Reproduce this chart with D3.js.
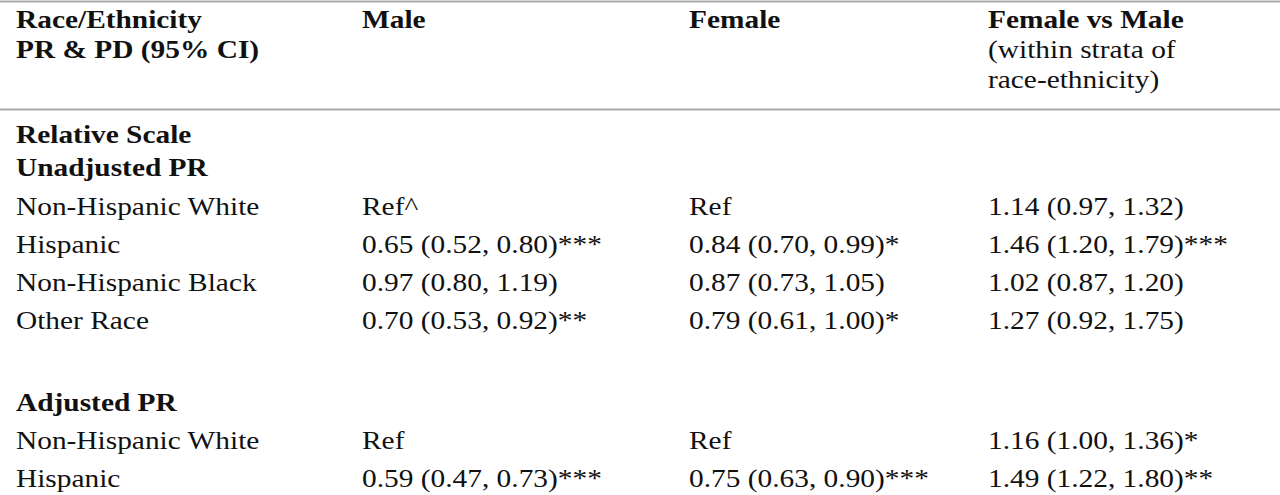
<!DOCTYPE html>
<html><head><meta charset="utf-8">
<script src="https://cdn.jsdelivr.net/npm/d3@7"></script>
<style>body{margin:0;background:#fff}</style>
</head><body><div id="tbl"></div>
<script>
var headers = [
  ["Race/Ethnicity", "PR & PD (95% CI)"],
  ["Male"],
  ["Female"],
  ["Female vs Male", "(within strata of", "race-ethnicity)"]
];
var sections = ["Relative Scale", "Unadjusted PR", "", "Adjusted PR"];
var groups = ["Non-Hispanic White", "Hispanic", "Non-Hispanic Black", "Other Race"];
var maleVals = ["Ref^", "0.65 (0.52, 0.80)***", "0.97 (0.80, 1.19)", "0.70 (0.53, 0.92)**", "Ref", "0.59 (0.47, 0.73)***"];
var femaleVals = ["Ref", "0.84 (0.70, 0.99)*", "0.87 (0.73, 1.05)", "0.79 (0.61, 1.00)*", "Ref", "0.75 (0.63, 0.90)***"];
var fvmVals = ["1.14 (0.97, 1.32)", "1.46 (1.20, 1.79)***", "1.02 (0.87, 1.20)", "1.27 (0.92, 1.75)", "1.16 (1.00, 1.36)*", "1.49 (1.22, 1.80)**"];

var width = 1280, height = 495, font_size = 26, sx = 1.13;
var colX = [16, 362, 689, 988];

var svg = d3.select("#tbl").append("svg").attr("width", width).attr("height", height)
  .style("font-family", "'Liberation Serif','Times New Roman',serif")
  .style("font-size", font_size + "px").attr("fill", "#111");

function put(x, y, t, bold) {
  svg.append("text").attr("transform", "translate(" + x + "," + y + ") scale(" + sx + ",1)")
    .attr("font-weight", bold ? "bold" : "normal").text(t);
}

// rules
svg.append("line").attr("x1", 0).attr("x2", width).attr("y1", 1.5).attr("y2", 1.5).attr("stroke", "#aaa").attr("stroke-width", 2);
svg.append("line").attr("x1", 0).attr("x2", width).attr("y1", 109.5).attr("y2", 109.5).attr("stroke", "#aaa").attr("stroke-width", 2);

// header
headers.forEach(function (lines, c) {
  lines.forEach(function (t, k) {
    put(colX[c], 28 + k * 30, t, !(c == 3 && k > 0));
  });
});

// body rows
var rows = [
  {label: sections[0], bold: true, y: 143},
  {label: sections[1], bold: true, y: 176},
  {label: groups[0], y: 215, v: 0},
  {label: groups[1], y: 253, v: 1},
  {label: groups[2], y: 291, v: 2},
  {label: groups[3], y: 329, v: 3},
  {label: sections[3], bold: true, y: 411},
  {label: groups[0], y: 449, v: 4},
  {label: groups[1], y: 487, v: 5}
];
rows.forEach(function (r) {
  put(colX[0], r.y, r.label, r.bold);
  if (r.v !== undefined) {
    [maleVals, femaleVals, fvmVals].forEach(function (arr, j) {
      put(colX[j + 1], r.y, arr[r.v], false);
    });
  }
});
</script></body></html>
